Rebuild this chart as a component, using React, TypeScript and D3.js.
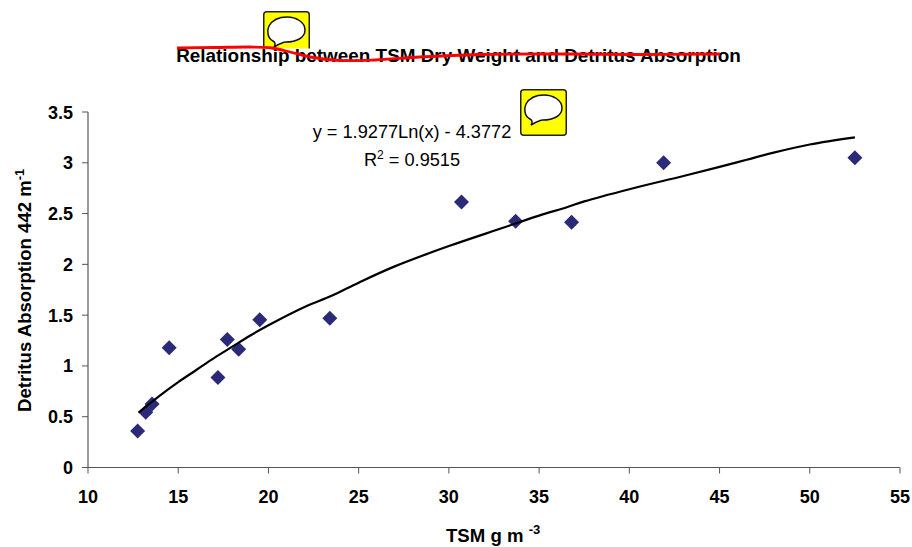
import React from 'react';
import * as d3 from 'd3';

const tsm = [12.75, 13.2, 13.55, 14.5, 17.2, 17.72, 18.35, 19.52, 23.4, 30.7, 33.7, 36.8, 41.9, 52.5];
const absorption = [0.36, 0.545, 0.625, 1.18, 0.885, 1.26, 1.165, 1.455, 1.47, 2.615, 2.425, 2.415, 3.0, 3.05];
const trendX = [12.8, 14, 15, 16, 17, 18, 19, 20, 22, 23.5, 25, 27, 30, 33, 35, 36.5, 37.5, 40, 43, 45, 46.5, 48, 50, 52.5];
const trendY = [0.54, 0.71, 0.84, 0.96, 1.08, 1.19, 1.3, 1.4, 1.58, 1.69, 1.82, 1.98, 2.18, 2.36, 2.48, 2.56, 2.62, 2.74, 2.87, 2.96, 3.03, 3.1, 3.18, 3.25];
const xTicks = [10, 15, 20, 25, 30, 35, 40, 45, 50, 55];
const yTicks = [0, 0.5, 1, 1.5, 2, 2.5, 3, 3.5];
const titleText = 'Relationship between TSM Dry Weight and Detritus Absorption';
const strokeX = [177, 215, 250, 272, 290, 310, 340, 375, 420, 480, 560, 640, 720];
const strokeY = [48, 47.5, 47, 48, 52, 57, 60.5, 60, 57, 54.5, 54, 54.5, 54];

const font = '"Liberation Sans", Arial, sans-serif';
const x = d3.scaleLinear().domain([10, 55]).range([88, 900]);
const y = d3.scaleLinear().domain([0, 3.5]).range([467.5, 112]);

function Note({ left, top }: { left: number; top: number }) {
  return (
    <g transform={`translate(${left},${top})`}>
      <rect x={0.75} y={0.75} width={45.5} height={45.5} rx={3} fill="#ffff00" stroke="#222" strokeWidth={1.5} />
      <path
        d="M10 30 C4 27 4 19 6 15 C10 8 18 6 24 6 C33 6 42 11 42 19 C42 27 33 31 23 31 C20 31 18 32 11 36 C13 33 12 31 10 30 Z"
        fill="#fff" stroke="#111" strokeWidth={1.5}
      />
    </g>
  );
}

export default function App() {
  const trend = d3.line<number>().x(d => x(trendX[d])).y(d => y(trendY[d])).curve(d3.curveCatmullRom);
  const red = d3.line<number>().x(d => strokeX[d]).y(d => strokeY[d]).curve(d3.curveCatmullRom);
  const diamond = 'M0,-7.5 L7.5,0 L0,7.5 L-7.5,0 Z';
  return (
    <svg width={912} height={547} style={{ position: 'absolute', left: 0, top: 0, background: '#fff' }} fontFamily={font}>
      <Note left={263} top={11} />
      <rect x={170} y={48.5} width={580} height={20} fill="#fff" />
      <text x={458.5} y={62} textAnchor="middle" fontSize={18.9} fontWeight="bold" fill="#000">{titleText}</text>
      <path d={red(d3.range(strokeX.length)) ?? ''} fill="none" stroke="#ff0000" strokeWidth={2.8} />

      <line x1={x(10)} x2={x(10)} y1={y(3.5)} y2={y(0)} stroke="#555" strokeWidth={1.2} />
      <line x1={x(10)} x2={x(55)} y1={y(0)} y2={y(0)} stroke="#555" strokeWidth={1.2} />
      {yTicks.map(t => (
        <g key={t}>
          <line x1={x(10) - 6} x2={x(10)} y1={y(t)} y2={y(t)} stroke="#555" strokeWidth={1} />
          <text x={73} y={y(t) + 6.5} textAnchor="end" fontSize={18} fontWeight="bold">{t}</text>
        </g>
      ))}
      {xTicks.map(t => (
        <g key={t}>
          <line x1={x(t)} x2={x(t)} y1={y(0)} y2={y(0) + 6} stroke="#555" strokeWidth={1} />
          <text x={x(t)} y={503} textAnchor="middle" fontSize={18} fontWeight="bold">{t}</text>
        </g>
      ))}

      {tsm.map((v, i) => (
        <path key={i} d={diamond} transform={`translate(${x(v)},${y(absorption[i])})`} fill="#2a2a78" />
      ))}
      <path d={trend(d3.range(trendX.length)) ?? ''} fill="none" stroke="#000" strokeWidth={2.2} />

      <text x={412} y={138} textAnchor="middle" fontSize={18.2}>y = 1.9277Ln(x) - 4.3772</text>
      <text x={412} y={166} textAnchor="middle" fontSize={18.2}>
        R<tspan dy={-7} fontSize={12}>2</tspan><tspan dy={7}> = 0.9515</tspan>
      </text>
      <Note left={520} top={89} />

      <text x={446} y={542} fontSize={18.6} fontWeight="bold">TSM g m <tspan dy={-8} fontSize={13}> -3</tspan></text>
      <text transform="translate(31,412) rotate(-90)" fontSize={18.6} fontWeight="bold">
        Detritus Absorption 442 m<tspan dy={-7} fontSize={13}>-1</tspan>
      </text>
    </svg>
  );
}
